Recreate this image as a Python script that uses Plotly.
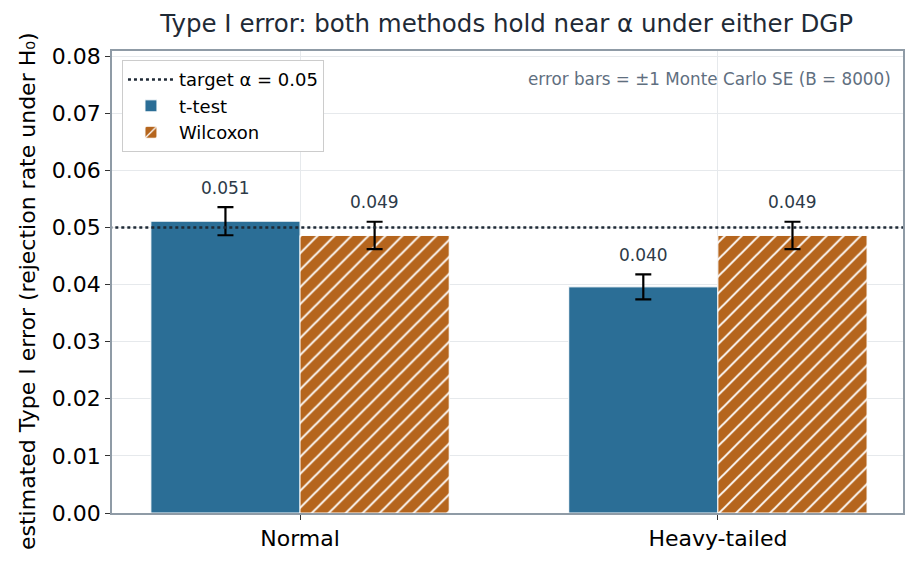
import plotly.graph_objects as go

categories = ["Normal", "Heavy-tailed"]
ttest_vals = [0.0511, 0.0396]
wilcoxon_vals = [0.0486, 0.0486]
ttest_se = [0.00246, 0.00218]
wilcoxon_se = [0.00240, 0.00240]
ttest_labels = ["0.051", "0.040"]
wilcoxon_labels = ["0.049", "0.049"]
alpha = 0.05

BLUE = "#2b6e96"
ORANGE = "#b5651d"
FONT = "DejaVu Sans"

fig = go.Figure()
fig.add_trace(go.Scatter(
    x=[-0.6, 1.6], y=[alpha, alpha], mode="lines",
    line=dict(color="#1f2a36", width=2.4, dash="dot"),
    name="target α = 0.05"))
fig.add_trace(go.Bar(
    x=[0, 1], y=ttest_vals, name="t-test",
    marker=dict(color=BLUE, line=dict(color="white", width=1)),
    error_y=dict(type="data", array=ttest_se, color="black", thickness=2.2, width=8),
    offsetgroup="a"))
fig.add_trace(go.Bar(
    x=[0, 1], y=wilcoxon_vals, name="Wilcoxon",
    marker=dict(color=ORANGE, line=dict(color="white", width=1),
                pattern=dict(shape="/", fgcolor="white", bgcolor=ORANGE,
                             size=12, solidity=0.16, fillmode="replace")),
    error_y=dict(type="data", array=wilcoxon_se, color="black", thickness=2.2, width=8),
    offsetgroup="b"))

annotations = []
for i in range(len(categories)):
    annotations.append(dict(x=i - 0.178, y=ttest_vals[i] + ttest_se[i] + 0.0013,
                            text=ttest_labels[i], showarrow=False, yanchor="bottom",
                            font=dict(size=17, color="#2d3a48", family=FONT)))
    annotations.append(dict(x=i + 0.178, y=wilcoxon_vals[i] + wilcoxon_se[i] + 0.0013,
                            text=wilcoxon_labels[i], showarrow=False, yanchor="bottom",
                            font=dict(size=17, color="#2d3a48", family=FONT)))
annotations.append(dict(xref="paper", yref="paper", x=0.987, y=0.94,
                        xanchor="right", yanchor="middle", showarrow=False,
                        text="error bars = ±1 Monte Carlo SE (B = 8000)",
                        font=dict(size=16.8, color="#5f6f7f", family=FONT)))
# y-axis title placed as a rotated annotation for exact positioning
annotations.append(dict(xref="paper", yref="paper", x=(27 - 112) / 791,
                        y=1 - (291 - 51) / 462, xanchor="center", yanchor="middle",
                        textangle=-90, showarrow=False,
                        text="estimated Type I error (rejection rate under H₀)",
                        font=dict(size=22, color="black", family=FONT)))

fig.update_layout(
    width=918, height=565,
    margin=dict(l=112, r=15, t=51, b=52),
    paper_bgcolor="white", plot_bgcolor="white",
    font=dict(family=FONT, size=22, color="black"),
    title=dict(text="Type I error: both methods hold near α under either DGP",
               x=0.552, xanchor="center", y=0.958, yanchor="middle",
               font=dict(size=24.5, color="#1f2a36", family=FONT)),
    barmode="group", bargap=0.286, bargroupgap=0,
    showlegend=True,
    legend=dict(x=0.0126, y=0.98, xanchor="left", yanchor="top",
                bgcolor="white", bordercolor="#cccccc", borderwidth=1,
                font=dict(size=18, family=FONT), traceorder="normal",
                tracegroupgap=2, itemwidth=46),
    annotations=annotations,
)
fig.update_xaxes(
    range=[-0.45, 1.443], tickvals=[0, 1], ticktext=categories,
    showgrid=True, gridcolor="#e6e9ec", gridwidth=1,
    showline=True, linecolor="#8f9ba6", linewidth=1.5, mirror=True,
    ticks="outside", ticklen=5, tickcolor="#333", zeroline=False,
    tickfont=dict(size=22, family=FONT))
fig.update_yaxes(
    range=[0, 0.0809], tickvals=[i / 100 for i in range(9)],
    ticktext=[f"{i/100:.2f}" for i in range(9)],
    showgrid=True, gridcolor="#e6e9ec", gridwidth=1,
    showline=True, linecolor="#8f9ba6", linewidth=1.5, mirror=True,
    ticks="outside", ticklen=5, tickcolor="#333", zeroline=False,
    tickfont=dict(size=22, family=FONT))

fig.write_html("out.html")
